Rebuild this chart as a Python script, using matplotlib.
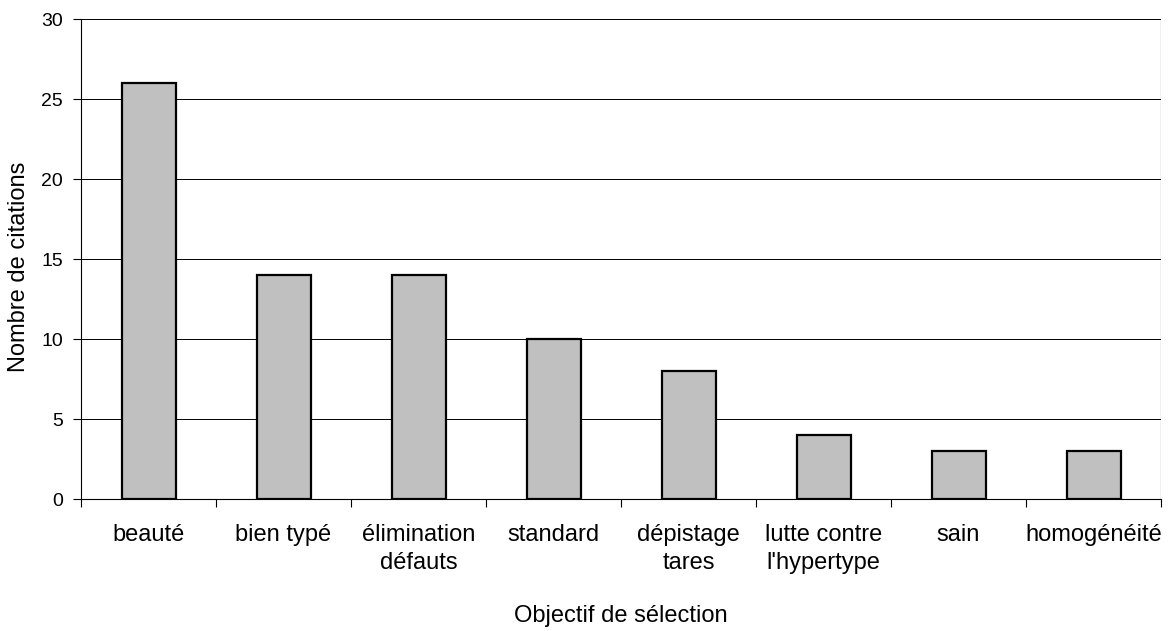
import matplotlib
matplotlib.use("Agg")
import matplotlib.pyplot as plt

# data
categories = ["beauté", "bien typé", "élimination\ndéfauts", "standard",
              "dépistage\ntares", "lutte contre\nl'hypertype", "sain", "homogénéité"]
citations = [26, 14, 14, 10, 8, 4, 3, 3]
y_ticks = [0, 5, 10, 15, 20, 25, 30]

plt.rcParams['font.family'] = ['Liberation Sans', 'DejaVu Sans']

fig = plt.figure(figsize=(11.73, 6.31), dpi=100)
ax = fig.add_axes([81 / 1173, 1 - 499 / 631, 1080 / 1173, 480 / 631])

x = list(range(len(categories)))
ax.bar(x, citations, width=0.4, color="#c0c0c0", edgecolor="black", linewidth=1.6, zorder=3)

ax.set_xlim(-0.5, len(categories) - 0.5)
ax.set_ylim(0, 30)
ax.set_yticks(y_ticks)
ax.yaxis.grid(True, color="black", linewidth=0.7, zorder=0)

# ticks between the categories, labels centred under the bars
ax.set_xticks([i - 0.5 for i in range(len(categories) + 1)])
ax.set_xticklabels([])
ax.set_xticks(x, minor=True)
ax.set_xticklabels(categories, minor=True, fontsize=17, linespacing=1.35)
ax.tick_params(axis="x", which="minor", length=0, pad=18)
ax.tick_params(axis="x", which="major", length=6, width=0.8, direction="out")
ax.tick_params(axis="y", length=6, width=0.8, direction="out", labelsize=14, pad=7)

for s in ax.spines.values():
    s.set_linewidth(0.8)
ax.spines["top"].set_visible(False)
ax.spines["right"].set_visible(False)
ax.axvline(len(categories) - 0.5, color="black", linewidth=0.8, zorder=1)

ax.set_xlabel("Objectif de sélection", fontsize=17, labelpad=22)
ax.set_ylabel("Nombre de citations", fontsize=17)
ax.yaxis.set_label_coords(-0.047, 0.483)

fig.savefig("out.png", dpi=100)
